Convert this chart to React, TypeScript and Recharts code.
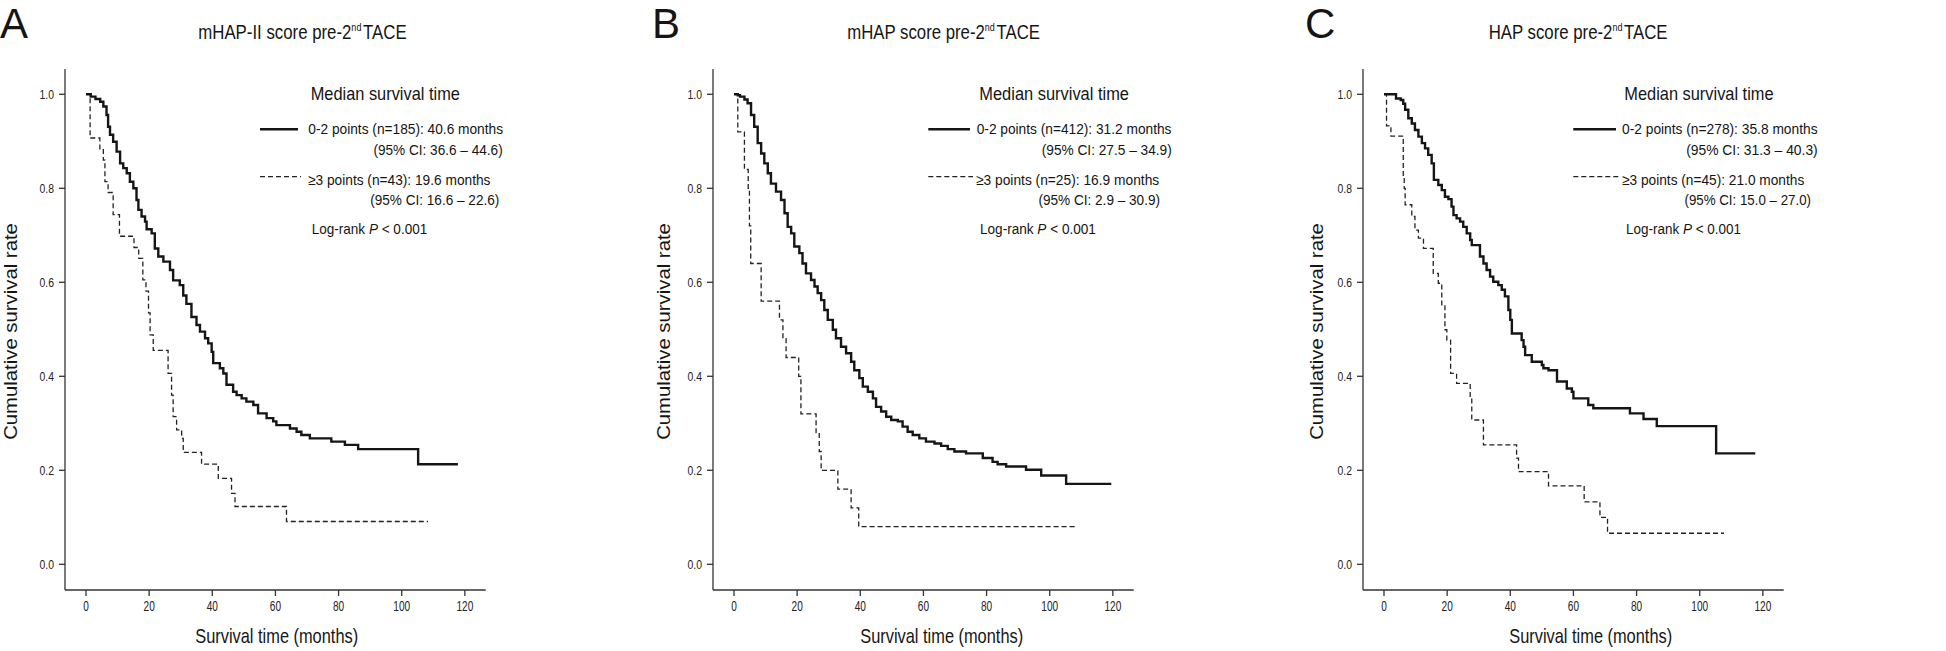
import React, { useLayoutEffect, useRef, useState } from "react";
import { LineChart, Line, XAxis, YAxis } from "recharts";

// survival curves: [months, cumulative survival]
const aLow: [number, number][] = [
  [0, 1], [1.5, 0.995], [3, 0.99], [4.5, 0.984], [5.5, 0.974], [6.5, 0.956], [7, 0.931], [7.6, 0.914],
  [8.6, 0.899], [9.7, 0.878], [10.8, 0.853], [11.8, 0.843], [12.9, 0.832], [13.9, 0.814], [15, 0.8],
  [16, 0.775], [16.6, 0.754], [17.6, 0.74], [18.7, 0.729], [19.2, 0.713], [20.8, 0.704], [21.8, 0.672],
  [22.9, 0.655], [24.5, 0.644], [26.6, 0.626], [27.6, 0.604], [29.7, 0.594], [30.8, 0.572], [31.8, 0.554],
  [33.4, 0.526], [35, 0.509], [36.1, 0.495], [37.7, 0.481], [38.7, 0.47], [39.8, 0.452], [40.3, 0.428],
  [42.4, 0.417], [43.5, 0.406], [44.5, 0.382], [46.6, 0.367], [47.7, 0.36], [49.3, 0.353], [50.8, 0.346],
  [53, 0.339], [54.5, 0.321], [57.2, 0.311], [59.3, 0.304], [60.3, 0.296], [64.6, 0.289], [66.7, 0.282],
  [68.2, 0.275], [70.9, 0.268], [77.7, 0.261], [82, 0.254], [86.2, 0.245], [105.2, 0.213], [117.8, 0.213],
];
const aHigh: [number, number][] = [
  [0, 1], [1.3, 0.907], [4.4, 0.884], [5.5, 0.86], [6, 0.814], [7, 0.791], [8.6, 0.744], [10.6, 0.698],
  [15.2, 0.674], [16.7, 0.651], [18, 0.605], [19, 0.581], [19.8, 0.535], [20.3, 0.488], [21.3, 0.455],
  [26, 0.406], [27.1, 0.36], [27.6, 0.314], [28.7, 0.286], [30.3, 0.268], [30.8, 0.238], [36.6, 0.213],
  [41.9, 0.183], [46.1, 0.151], [47.2, 0.123], [63.5, 0.091], [108.3, 0.091],
];
const bLow: [number, number][] = [
  [0, 1], [1.2, 0.998], [1.9, 0.995], [3.3, 0.989], [4.3, 0.981], [5.4, 0.956], [6.4, 0.931], [7.5, 0.896],
  [8.6, 0.874], [9.6, 0.853], [10.7, 0.832], [11.7, 0.81], [13.3, 0.793], [14.9, 0.775], [16, 0.747],
  [17, 0.718], [18.1, 0.704], [19.1, 0.676], [20.7, 0.662], [21.7, 0.64], [22.8, 0.619], [24.4, 0.605],
  [25.5, 0.591], [26.5, 0.577], [27.6, 0.562], [28.6, 0.541], [29.7, 0.52], [31.3, 0.499], [32.3, 0.481],
  [33.9, 0.463], [35.5, 0.449], [37.1, 0.431], [38.1, 0.413], [39.7, 0.396], [40.8, 0.378], [42.4, 0.367],
  [44, 0.353], [45, 0.335], [46.6, 0.325], [48.2, 0.314], [49.8, 0.307], [51.9, 0.304], [53.4, 0.293],
  [55, 0.282], [56.6, 0.275], [58.7, 0.268], [60.8, 0.261], [63.5, 0.257], [65.6, 0.252], [67.7, 0.245],
  [69.8, 0.24], [73.5, 0.236], [78.8, 0.226], [81.9, 0.218], [83.5, 0.213], [86.2, 0.208], [92.5, 0.201],
  [97.3, 0.189], [105.2, 0.171], [119.5, 0.171],
];
const bHigh: [number, number][] = [
  [0, 1], [1.2, 0.92], [3.3, 0.84], [4.5, 0.8], [4.9, 0.72], [5.3, 0.64], [8.6, 0.56], [14.4, 0.52],
  [15.5, 0.48], [16.5, 0.44], [20.5, 0.4], [21.2, 0.32], [26, 0.28], [27, 0.24], [27.6, 0.2],
  [32.9, 0.16], [37.1, 0.12], [39.5, 0.08], [108.4, 0.08],
];
const cLow: [number, number][] = [
  [0, 1], [3.8, 0.991], [5.3, 0.988], [6.1, 0.98], [6.7, 0.967], [7.7, 0.949], [8.8, 0.938], [9.8, 0.924],
  [10.9, 0.91], [12, 0.896], [13, 0.885], [14, 0.871], [15.1, 0.853], [15.8, 0.818], [17.2, 0.807],
  [18.3, 0.796], [19.3, 0.782], [20.4, 0.777], [21.4, 0.761], [22, 0.743], [23, 0.736], [24.1, 0.729],
  [25.1, 0.718], [26.2, 0.704], [27.3, 0.69], [27.8, 0.679], [30.4, 0.655], [31.5, 0.64], [32.5, 0.626],
  [33.6, 0.612], [34.6, 0.601], [36.2, 0.594], [37.3, 0.584], [38.3, 0.57], [39.4, 0.541], [40, 0.52],
  [40.5, 0.491], [43.6, 0.477], [44.2, 0.463], [44.7, 0.445], [46.8, 0.431], [50, 0.424], [50.5, 0.417],
  [52.1, 0.413], [54.8, 0.389], [57.9, 0.374], [59.5, 0.367], [60, 0.353], [64.7, 0.339], [66.3, 0.332],
  [77.9, 0.321], [82.2, 0.309], [86.4, 0.294], [105.2, 0.236], [117.6, 0.236],
];
const cHigh: [number, number][] = [
  [0, 1], [0.8, 0.933], [2.2, 0.911], [6.1, 0.822], [6.4, 0.8], [6.7, 0.765], [8.8, 0.74], [9.8, 0.711],
  [10.9, 0.694], [12.5, 0.672], [15.6, 0.619], [17.2, 0.598], [18.3, 0.552], [19.3, 0.499], [19.9, 0.477],
  [21.1, 0.406], [23, 0.385], [27.3, 0.353], [27.8, 0.307], [31.5, 0.254], [42, 0.226], [42.6, 0.197],
  [52.1, 0.167], [63.4, 0.133], [68.4, 0.1], [70.8, 0.066], [107.7, 0.066],
];

const xTicks = [0, 20, 40, 60, 80, 100, 120];
const yTicks = [0, 0.2, 0.4, 0.6, 0.8, 1.0];

const panelLetters = ["A", "B", "C"];
const titleMain = ["mHAP-II score pre-2", "mHAP score pre-2", "HAP score pre-2"];
const lowLabels = [
  "0-2 points (n=185): 40.6 months",
  "0-2 points (n=412): 31.2 months",
  "0-2 points (n=278): 35.8 months",
];
const lowCI = ["(95% CI: 36.6 – 44.6)", "(95% CI: 27.5 – 34.9)", "(95% CI: 31.3 – 40.3)"];
const highLabels = [
  "≥3 points (n=43): 19.6 months",
  "≥3 points (n=25): 16.9 months",
  "≥3 points (n=45): 21.0 months",
];
const highCI = ["(95% CI: 16.6 – 22.6)", "(95% CI: 2.9 – 30.9)", "(95% CI: 15.0 – 27.0)"];

const series = [
  [aLow, aHigh],
  [bLow, bHigh],
  [cLow, cHigh],
];

const FONT = "'Liberation Sans', Arial, sans-serif";
const INK = "#151515";

// where things sit in each panel (page pixels)
const layout = [
  {
    left: 0, letter: 0, title: [198.3, 208.4],
    header: [310.7, 149.3], sample: [260, 298], e1: [308.3, 195], c1: [502.7, 129.4],
    e2: [308, 182.7], c2: [499.3, 129.3], lr: [311.7, 115.6], xl: 276.7, yl: 17,
  },
  {
    left: 648.3, letter: 652, title: [847.3, 192.7],
    header: [979.3, 149.7], sample: [928.3, 970], e1: [976.7, 195], c1: [1171.7, 130],
    e2: [976, 183.3], c2: [1160, 121.7], lr: [980, 116], xl: 941.7, yl: 670,
  },
  {
    left: 1297.7, letter: 1305, title: [1488.7, 179],
    header: [1624.3, 149.4], sample: [1573.3, 1616], e1: [1622, 195.7], c1: [1817.7, 131.7],
    e2: [1622, 182.3], c2: [1811, 126.7], lr: [1626, 115], xl: 1590.7, yl: 1322.7,
  },
];

function tickWidth(s: string, size: number, squeeze: number) {
  let w = 0;
  for (const c of s) w += c === "." ? 0.278 : 0.556;
  return w * size * squeeze;
}

const XTick = (props: any) => {
  const { x, y, payload } = props;
  const s = String(payload.value);
  return (
    <text x={x} y={y} dy="0.71em" textAnchor="middle" fontSize={14} fontFamily={FONT} fill="#222"
      textLength={tickWidth(s, 14, 0.72)} lengthAdjust="spacingAndGlyphs">
      {s}
    </text>
  );
};

const YTick = (props: any) => {
  const { x, y, payload } = props;
  const s = Number(payload.value).toFixed(1);
  return (
    <text x={x} y={y} dy="0.355em" textAnchor="end" fontSize={13} fontFamily={FONT} fill="#222"
      textLength={tickWidth(s, 13, 0.8)} lengthAdjust="spacingAndGlyphs">
      {s}
    </text>
  );
};

const toRows = (pts: [number, number][]) => pts.map(([t, s]) => ({ t, s }));

function Panel({ idx }: { idx: number }) {
  const [low, high] = series[idx];
  const axisStyle = { stroke: "#333", strokeWidth: 1.3 };
  return (
    <div style={{ position: "absolute", left: layout[idx].left, top: 0 }}>
      <LineChart width={648} height={651} margin={{ top: 69, right: 162.3, left: 0, bottom: 0 }}>
        <XAxis dataKey="t" type="number" domain={[-6.65, 126.6]} ticks={xTicks} allowDataOverflow
          height={61} tickSize={6} tickMargin={5} axisLine={axisStyle} tickLine={axisStyle} tick={<XTick />} />
        <YAxis type="number" domain={[-0.0547, 1.0538]} ticks={yTicks} allowDataOverflow width={65}
          tickSize={6} tickMargin={5} axisLine={axisStyle} tickLine={axisStyle} tick={<YTick />} />
        <Line data={toRows(high)} dataKey="s" type="stepAfter" stroke="#222" strokeWidth={1.3}
          strokeDasharray="5 3" dot={false} activeDot={false} isAnimationActive={false} />
        <Line data={toRows(low)} dataKey="s" type="stepAfter" stroke={INK} strokeWidth={2.4}
          dot={false} activeDot={false} isAnimationActive={false} />
      </LineChart>
    </div>
  );
}

// text squeezed horizontally (the original uses a condensed face) to a measured width
function FitText({ x, y, w, size, anchor = "start", rotate = 0, children }: any) {
  const ref = useRef<SVGTextElement>(null);
  const [k, setK] = useState(1);
  useLayoutEffect(() => {
    if (ref.current) {
      const bw = ref.current.getBBox().width;
      if (bw > 0) setK(w / bw);
    }
  }, [w]);
  const rot = rotate ? ` rotate(${rotate})` : "";
  return (
    <g transform={`translate(${x},${y})${rot} scale(${k},1)`}>
      <text ref={ref} x={0} y={0} fontSize={size} fontFamily={FONT} fill={INK} textAnchor={anchor}>
        {children}
      </text>
    </g>
  );
}

function Overlay() {
  return (
    <svg width={1946} height={651} style={{ position: "absolute", left: 0, top: 0, pointerEvents: "none" }}>
      {layout.map((L, i) => (
        <g key={i}>
          <text x={L.letter} y={38} fontSize={42} fontFamily={FONT} fill={INK}>{panelLetters[i]}</text>
          <FitText x={L.title[0]} y={39} w={L.title[1]} size={20.5}>
            {titleMain[i]}
            <tspan fontSize={11} dy={-8}>nd</tspan>
            <tspan dy={8} dx={2}>TACE</tspan>
          </FitText>

          <FitText x={L.header[0]} y={100} w={L.header[1]} size={17.5}>Median survival time</FitText>
          <line x1={L.sample[0]} x2={L.sample[1]} y1={129.3} y2={129.3} stroke={INK} strokeWidth={2.4} />
          <FitText x={L.e1[0]} y={134} w={L.e1[1]} size={15}>{lowLabels[i]}</FitText>
          <FitText x={L.c1[0]} y={155} w={L.c1[1]} size={15} anchor="end">{lowCI[i]}</FitText>
          <line x1={L.sample[0]} x2={L.sample[1] + 3} y1={176.7} y2={176.7} stroke="#222" strokeWidth={1.3}
            strokeDasharray="5 3" />
          <FitText x={L.e2[0]} y={185} w={L.e2[1]} size={15}>{highLabels[i]}</FitText>
          <FitText x={L.c2[0]} y={205} w={L.c2[1]} size={15} anchor="end">{highCI[i]}</FitText>
          <FitText x={L.lr[0]} y={234} w={L.lr[1]} size={15}>
            Log-rank <tspan fontStyle="italic">P</tspan>{" < 0.001"}
          </FitText>

          <FitText x={L.xl} y={643} w={163} size={20} anchor="middle">Survival time (months)</FitText>
          <FitText x={L.yl} y={331.5} w={217} size={19} anchor="middle" rotate={-90}>
            Cumulative survival rate
          </FitText>
        </g>
      ))}
    </svg>
  );
}

export default function App() {
  return (
    <div style={{ position: "absolute", left: 0, top: 0, width: 1946, height: 651, background: "#fff", overflow: "hidden" }}>
      <Panel idx={0} />
      <Panel idx={1} />
      <Panel idx={2} />
      <Overlay />
    </div>
  );
}
